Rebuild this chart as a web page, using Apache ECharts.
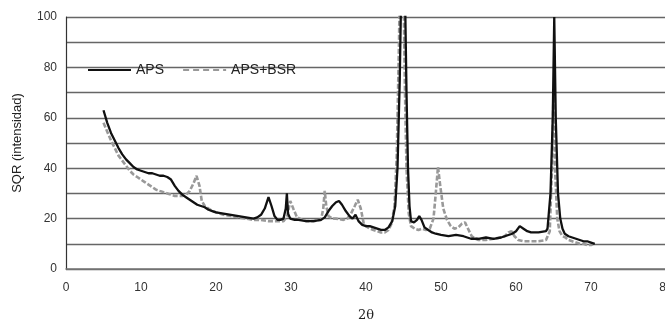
<!DOCTYPE html>
<html>
<head>
<meta charset="utf-8">
<script src="https://cdn.jsdelivr.net/npm/echarts@6/dist/echarts.min.js"></script>
<style>html,body{margin:0;padding:0;background:#fff}#c{width:665px;height:320px}</style>
</head>
<body>
<div id="c"></div>
<script>
const xTicks = [0, 10, 20, 30, 40, 50, 60, 70, 80];
const yTicks = [0, 10, 20, 30, 40, 50, 60, 70, 80, 90, 100];

const apsX = [5.0,5.5,6.0,6.5,7.0,7.5,8.0,8.5,9.0,9.5,10.0,10.5,11.0,11.5,12.0,12.5,13.0,13.5,14.0,14.5,15.0,15.5,16.0,16.5,17.0,17.5,18.0,18.5,19.0,19.5,20.0,21,22,23,24,25,25.5,26,26.5,27.0,27.4,27.8,28.2,28.6,29.0,29.3,29.45,29.6,29.9,30.5,31,32,33,34,34.5,35.0,35.5,36.0,36.4,36.8,37.3,37.8,38.2,38.6,39.0,39.5,40,40.5,41,41.5,42,42.5,43,43.5,43.9,44.2,44.5,44.8,45.1,45.4,45.6,45.8,46.0,46.4,46.8,47.1,47.4,47.8,48.3,48.8,49.3,50,51,52,53,53.5,54,55,56,57,58,59,59.5,60.0,60.5,61.0,61.5,62,63,64,64.2,64.6,64.9,65.1,65.3,65.6,65.9,66.2,66.5,67,67.5,68,68.5,69,69.5,70,70.5];
const apsY = [63,58,54,51,48,45.5,43.5,42,40.5,39.5,39,38.5,38,38,37.5,37,37,36.5,35.5,33,31,29.5,28.5,27.5,26.5,25.5,25,24.5,23.5,23,22.5,22,21.5,21,20.5,20,20.5,21.5,24,28.5,25,21,19.5,19.5,20,24,30,22,20,19.5,19.5,19,19,19.5,20.5,23,25,26.5,27,25.5,23,21,20,21.5,19,17.5,17,17,16.5,16,15.5,15.5,16.5,19,25,40,75,130,130,70,40,25,19,18.5,19.5,21,19.5,16.5,15.5,14.5,14,13.5,13,13.5,13,12.5,12,12,12.5,12,12.5,13.5,14,15,17,16,15,14.5,14.5,15,16,30,60,100,60,30,20,16,14,13,12.5,12,11.5,11,11,10.5,10];

const bsrX = [5.0,5.5,6,6.5,7,7.5,8,8.5,9,9.5,10,10.5,11,11.5,12,12.5,13,13.5,14,14.5,15,15.5,16,16.5,17.0,17.4,17.8,18.1,18.5,19,19.5,20,21,22,23,24,25,26,27,28,29,29.5,29.9,30.3,30.8,31.5,32,33,34,34.3,34.5,34.7,35.0,35.5,36,37,37.5,38,38.5,38.9,39.3,39.7,40,40.5,41,41.5,42,42.5,43,43.4,43.8,44.1,44.4,44.6,44.9,45.2,45.4,45.7,46,46.5,47,47.5,48,48.5,49.0,49.3,49.6,49.9,50.3,50.8,51.3,51.8,52.3,52.8,53.2,53.6,54.1,54.6,55,56,57,58,58.5,59,59.4,59.8,60.3,61,62,63,64,64.5,64.8,65.0,65.2,65.5,65.8,66.2,66.6,67,67.5,68,68.5,69,69.5,70,70.3];
const bsrY = [58,54.5,51,48,45,43,41,39,37.5,36.5,35.5,34.5,33.5,32.5,31.5,31,30.5,30,29.5,29,29,29,29.5,31,34,37,33,27,25,24,23,22.5,21.5,21,20.5,20,19.5,19.5,19,19,19,21,27,24,20.5,19.5,19,19,19.5,24,31,25,21,20,20,19.5,20,22,25,27.5,24,18,17,16,15.5,15,14.5,14.5,15.5,18,25,45,90,130,130,70,40,22,17,16,15.5,16,15.5,16,20,30,40.5,33,24,19.5,17,16,16.5,18,18.5,16,13,12,11.5,11.5,12,12.5,13,14.5,15,13,11.5,11,11,11,11.5,15,40,70,40,20,15,13,12.5,11.5,11,10.5,10,10,9.5,9.5,10];

const seriesNames = ['APS', 'APS+BSR'];
const zip = (xs, ys) => xs.map((x, i) => [x, ys[i]]);

const chart = echarts.init(document.getElementById('c'), null, {renderer: 'canvas'});
chart.setOption({
  animation: false,
  backgroundColor: '#fff',
  textStyle: {fontFamily: 'Liberation Sans, Arial, sans-serif'},
  grid: {left: 66, right: -1, top: 17, bottom: 51, containLabel: false, outerBoundsMode: 'none'},
  legend: {
    data: [
      {name: seriesNames[0]},
      {name: seriesNames[1], lineStyle: {type: [6, 4], width: 2.2}}
    ],
    orient: 'horizontal',
    left: 82, top: 58,
    itemWidth: 43, itemHeight: 14, itemGap: 18,
    itemStyle: {opacity: 0},
    textStyle: {fontSize: 14, color: '#222', fontFamily: 'Liberation Sans, Arial, sans-serif'}
  },
  xAxis: {
    type: 'value', min: xTicks[0], max: xTicks[xTicks.length - 1], interval: 10,
    name: '2θ', nameLocation: 'middle', nameGap: 40,
    nameTextStyle: {fontSize: 13, color: '#222', fontFamily: 'DejaVu Serif, serif'},
    axisLine: {show: true, lineStyle: {color: '#777', width: 1.5}},
    axisTick: {show: false},
    axisLabel: {fontSize: 12, color: '#333', margin: 13},
    splitLine: {show: false}
  },
  yAxis: {
    type: 'value', min: yTicks[0], max: yTicks[yTicks.length - 1], interval: 10,
    name: 'SQR (intensidad)', nameLocation: 'middle', nameGap: 42,
    nameTextStyle: {fontSize: 13, color: '#222'},
    axisLine: {show: true, lineStyle: {color: '#333', width: 1.2}},
    axisTick: {show: false},
    axisLabel: {fontSize: 12, color: '#333', margin: 9,
      formatter: v => (v % 20 === 0 ? String(v) : '')},
    splitLine: {show: true, lineStyle: {color: '#666', width: 1.3}}
  },
  series: [
    {
      name: seriesNames[1], type: 'line', data: zip(bsrX, bsrY),
      showSymbol: false, symbol: 'none', clip: true, z: 2,
      lineStyle: {color: '#999', width: 2.6, type: [5, 2]},
      itemStyle: {color: '#999'}
    },
    {
      name: seriesNames[0], type: 'line', data: zip(apsX, apsY),
      showSymbol: false, symbol: 'none', clip: true, z: 3,
      lineStyle: {color: '#111', width: 2.3},
      itemStyle: {color: '#111'}
    }
  ]
});
</script>
</body>
</html>
